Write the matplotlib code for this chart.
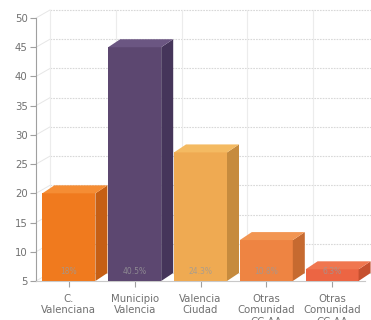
import matplotlib.pyplot as plt
from matplotlib.patches import Polygon

categories = ['C.\nValenciana', 'Municipio\nValencia', 'Valencia\nCiudad',
              'Otras\nComunidad\nCC.AA', 'Otras\nComunidad\nCC.AA']
values = [20, 45, 27, 12, 7]
pct_labels = ['18%', '40.5%', '24.3%', '10.8%', '6.3%']
front_colors = ['#F07A1E', '#5C4770', '#EFAA52', '#EE8442', '#EC6543']
side_colors = ['#C65F14', '#45355A', '#C68B3E', '#C66A30', '#C6502F']
top_colors = ['#F58D34', '#6B5682', '#F4BA62', '#F29552', '#F0764F']

W, H = 371, 320
fig = plt.figure(figsize=(W / 100, H / 100), dpi=100)
x0, x1 = 36, 365
y0, y1 = 281, 18
ax = fig.add_axes([x0 / W, (H - y0) / H, (x1 - x0) / W, (y0 - y1) / H])
ax.set_xlim(-0.5, 4.5)
ax.set_ylim(5, 50)

px_x = 5 / (x1 - x0)
px_y = 45 / (y0 - y1)

# back wall grid
wdx, wdy = 14 * px_x, 8 * px_y
yticks = list(range(5, 55, 5))
for t in yticks:
    ax.plot([-0.5 + wdx, 4.5 + wdx], [t + wdy, t + wdy], color='#d8d8d8',
            lw=0.8, ls=(0, (1.5, 1)), clip_on=False, zorder=0)
    ax.plot([-0.5, -0.5 + wdx], [t, t + wdy], color='#e6e6e6', lw=0.7,
            clip_on=False, zorder=0)
for b in range(5):
    xb = b - 0.5 + wdx
    ax.plot([xb, xb], [5 + wdy, 50 + wdy], color='#ececec', lw=0.8,
            clip_on=False, zorder=0)

# 3d bars
bw = 53 * px_x
dx, dy = 12 * px_x, 8 * px_y
for i, v in enumerate(values):
    l, r = i - bw / 2, i + bw / 2
    front = Polygon([(l, 5), (r, 5), (r, v), (l, v)], closed=True,
                    facecolor=front_colors[i], edgecolor='none', zorder=3)
    side = Polygon([(r, 5), (r + dx, 5 + dy), (r + dx, v + dy), (r, v)],
                   closed=True, facecolor=side_colors[i], edgecolor='none', zorder=3)
    top = Polygon([(l, v), (r, v), (r + dx, v + dy), (l + dx, v + dy)],
                  closed=True, facecolor=top_colors[i], edgecolor='none', zorder=3)
    for p in (front, side, top):
        p.set_clip_on(False)
        ax.add_patch(p)
    ax.text(i, 5 + 9 * px_y, pct_labels[i], ha='center', va='center',
            fontsize=5.5, color='#9a9a9a', alpha=0.8, zorder=4)

ax.set_xticks(range(5))
ax.set_xticklabels(categories, fontsize=7.3, color='#707070', linespacing=1.2)
ax.set_yticks(yticks)
ax.set_yticklabels([str(t) for t in yticks], fontsize=7.3, color='#707070')
ax.tick_params(axis='both', length=4, width=0.8, color='#a0a0a0', pad=2)
ax.tick_params(axis='x', pad=5)
for s in ['top', 'right']:
    ax.spines[s].set_visible(False)
ax.spines['left'].set_color('#a0a0a0')
ax.spines['bottom'].set_color('#c8c8c8')
ax.spines['left'].set_linewidth(0.8)
ax.spines['bottom'].set_linewidth(0.8)
ax.patch.set_alpha(0)

fig.savefig('out.png', dpi=100)
